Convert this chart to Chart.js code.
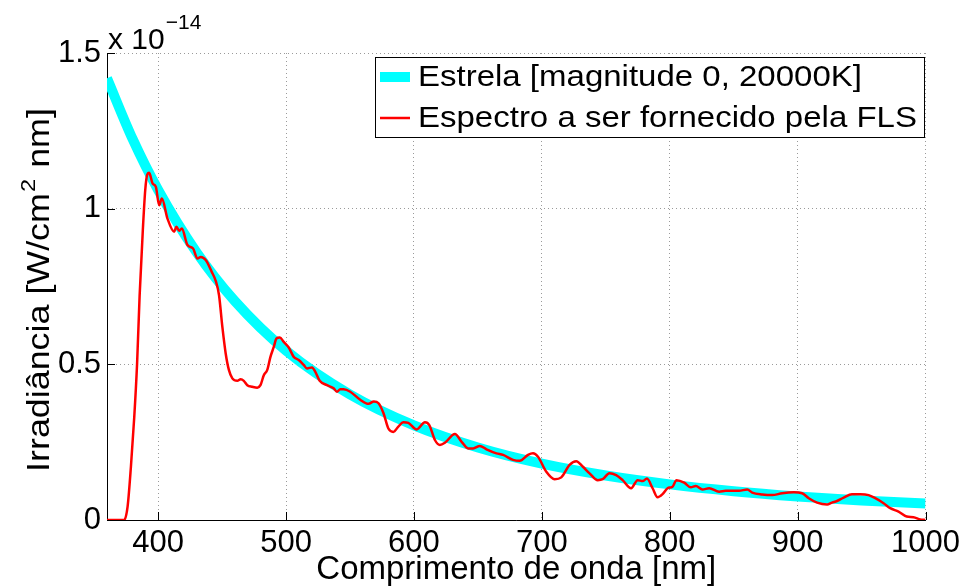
<!DOCTYPE html>
<html>
<head>
<meta charset="utf-8">
<script src="https://cdn.jsdelivr.net/npm/chart.js@4/dist/chart.umd.min.js"></script>
<style>
  html, body { margin: 0; padding: 0; background: #fff; }
  #chart { display: block; }
</style>
</head>
<body>
<canvas id="chart" width="968" height="587"></canvas>
<script>
// wavelength in nm, irradiance in units of 10^-14 W/cm2 nm
var starWavelengths = [360, 380, 400, 430, 460, 500, 550, 600, 650, 700, 750, 800, 850, 900, 950, 1000];
var starIrradiance = [1.419, 1.224, 1.060, 0.860, 0.703, 0.544, 0.403, 0.304, 0.233, 0.181, 0.143, 0.1145, 0.0926, 0.0757, 0.0624, 0.053];

var flsWavelengths = [360, 373.5, 376.1, 378.7, 381.3, 383.5, 385.5, 388, 389.9, 391.5, 393, 395.6, 398.2, 400.8, 402.9, 407.3,
    412.5, 414.3, 416.4, 418.5, 422.9, 427.3, 430.7, 433.3, 437.2, 441.9, 445, 447.6, 450.2, 452.8, 455.3, 458, 461.9, 464.5,
    467, 469.7, 473.6, 477.5, 480, 482.6, 485.3, 487.8, 490.4, 492.5, 495.1, 498.2, 502.1, 506, 509.9, 513.8, 516.4, 520.3,
    522.9, 526.3, 532, 537.2, 539.8, 542.4, 545, 550.2, 558, 564.5, 568.6, 572.3, 576.2, 580, 583.9, 587.8, 591.7, 595.6,
    602.2, 608.6, 612, 616.4, 620.3, 624.2, 632, 637.3, 642.4, 646.3, 651.5, 656.7, 664.5, 669.7, 677.5, 682.7, 689.2, 693.1,
    697, 703.5, 710, 715.2, 721.7, 726.9, 732.1, 737.3, 743.7, 747.6, 752.8, 758.1, 763.2, 769.8, 774.9, 778.8, 782.2, 786.6,
    790.5, 794.4, 798.3, 802.2, 805.3, 811.3, 816.5, 820.4, 825.6, 830.8, 838.6, 843.8, 854.2, 860.6, 864.5, 872.3, 880.1,
    887.9, 897, 903.5, 908.7, 915.2, 923, 926.9, 930.8, 936, 942.5, 949, 955.5, 960.7, 967.2, 972.4, 978.9, 985.3, 990.6,
    995.8, 1000];
var flsIrradiance = [0, 0, 0.043, 0.171, 0.33, 0.5, 0.72, 0.93, 1.06, 1.11, 1.115, 1.081, 1.07, 1.011, 1.033, 0.968,
    0.926, 0.942, 0.929, 0.936, 0.883, 0.872, 0.84, 0.845, 0.835, 0.797, 0.768, 0.722, 0.62, 0.535, 0.482, 0.455, 0.447, 0.452,
    0.447, 0.433, 0.428, 0.425, 0.433, 0.465, 0.482, 0.524, 0.556, 0.583, 0.586, 0.572, 0.554, 0.524, 0.514, 0.498, 0.487, 0.49,
    0.476, 0.447, 0.433, 0.423, 0.412, 0.42, 0.42, 0.412, 0.386, 0.373, 0.381, 0.375, 0.343, 0.294, 0.283, 0.3, 0.314, 0.312,
    0.291, 0.314, 0.305, 0.257, 0.241, 0.248, 0.276, 0.251, 0.23, 0.23, 0.238, 0.227, 0.214, 0.209, 0.193, 0.19, 0.209, 0.214,
    0.203, 0.155, 0.131, 0.137, 0.177, 0.189, 0.171, 0.15, 0.128, 0.131, 0.15, 0.144, 0.128, 0.102, 0.128, 0.125, 0.133, 0.102,
    0.073, 0.083, 0.102, 0.107, 0.128, 0.12, 0.105, 0.109, 0.098, 0.102, 0.091, 0.094, 0.094, 0.098, 0.088, 0.082, 0.08,
    0.086, 0.089, 0.086, 0.07, 0.056, 0.05, 0.056, 0.061, 0.072, 0.083, 0.083, 0.08, 0.07, 0.054, 0.038, 0.027, 0.011, 0.009,
    0.002, 0];

var xTicks = [400, 500, 600, 700, 800, 900, 1000];
var xTickLabels = ['400', '500', '600', '700', '800', '900', '1000'];
var yTicks = [0, 0.5, 1, 1.5];
var yTickLabels = ['0', '0.5', '1', '1.5'];

var FONT = '"Liberation Sans", Arial, Helvetica, sans-serif';

function toPoints(xs, ys) {
    return xs.map(function (x, i) { return { x: x, y: ys[i] }; });
}

// small tick marks inside the axes, the "x 10^-14" label and the y title
var axesExtras = {
    id: 'axesExtras',
    afterDatasetsDraw: function (chart) {
        var ctx = chart.ctx;
        var area = chart.chartArea;
        var xs = chart.scales.x;
        var ys = chart.scales.y;
        ctx.save();
        ctx.strokeStyle = '#000';
        ctx.lineWidth = 1;
        ctx.beginPath();
        xTicks.forEach(function (v) {
            var px = Math.round(xs.getPixelForValue(v)) + 0.5;
            ctx.moveTo(px, area.bottom);
            ctx.lineTo(px, area.bottom - 8);
        });
        yTicks.forEach(function (v) {
            var py = Math.round(ys.getPixelForValue(v)) + 0.5;
            ctx.moveTo(area.left, py);
            ctx.lineTo(area.left + 8, py);
        });
        ctx.stroke();

        ctx.fillStyle = '#000';
        ctx.textBaseline = 'alphabetic';
        ctx.textAlign = 'left';
        ctx.font = '30px ' + FONT;
        ctx.fillText('x 10', area.left + 1, 49);
        var w = ctx.measureText('x 10').width;
        ctx.font = '21px ' + FONT;
        ctx.fillText('\u221214', area.left + 1 + w + 1, 29);

        // y axis title with superscript 2, rotated
        var parts = ['Irradiância [W/cm', '2', ' nm]'];
        ctx.font = '32px ' + FONT;
        var w1 = ctx.measureText(parts[0]).width;
        var w3 = ctx.measureText(parts[2]).width;
        ctx.font = '21px ' + FONT;
        var w2 = ctx.measureText(parts[1]).width + 2;
        var stretch = 1.12;
        var total = (w1 + w2 + w3) * stretch;
        ctx.translate(49, 290 + total / 2);
        ctx.rotate(-Math.PI / 2);
        ctx.scale(stretch, 1);
        ctx.font = '32px ' + FONT;
        ctx.fillText(parts[0], 0, 0);
        ctx.font = '21px ' + FONT;
        ctx.fillText(parts[1], w1 + 1, -14);
        ctx.font = '32px ' + FONT;
        ctx.fillText(parts[2], w1 + w2, 0);
        ctx.restore();
    }
};

// legend drawn as a boxed panel in the top right corner
var boxLegend = {
    id: 'boxLegend',
    afterDraw: function (chart) {
        var ctx = chart.ctx;
        var left = 375, top = 57, right = 925, bottom = 138;
        ctx.save();
        ctx.fillStyle = '#fff';
        ctx.fillRect(left, top, right - left, bottom - top);
        ctx.strokeStyle = '#000';
        ctx.lineWidth = 1;
        ctx.strokeRect(left + 0.5, top + 0.5, right - left - 1, bottom - top - 1);
        ctx.textBaseline = 'middle';
        ctx.textAlign = 'left';
        var entries = chart.data.datasets.slice().sort(function (a, b) { return a.legendRank - b.legendRank; });
        entries.forEach(function (ds, i) {
            var y = top + 20 + i * 41;
            ctx.beginPath();
            ctx.strokeStyle = ds.borderColor;
            ctx.lineWidth = ds.borderWidth;
            ctx.moveTo(380, y);
            ctx.lineTo(410, y);
            ctx.stroke();
            ctx.save();
            ctx.translate(418, y + 1);
            ctx.scale(1.10, 1);
            ctx.font = '30px ' + FONT;
            ctx.fillStyle = '#000';
            ctx.fillText(ds.label, 0, 0);
            ctx.restore();
        });
        ctx.restore();
    }
};

document.addEventListener("DOMContentLoaded", function () {
    var ctx = document.getElementById('chart').getContext('2d');

    new Chart(ctx, {
        type: 'line',
        data: {
            datasets: [{
                label: 'Estrela [magnitude 0, 20000K]',
                legendRank: 0,
                order: 2,
                data: toPoints(starWavelengths, starIrradiance),
                borderColor: '#00ffff',
                borderWidth: 10,
                cubicInterpolationMode: 'monotone',
                pointRadius: 0,
                fill: false
            }, {
                label: 'Espectro a ser fornecido pela FLS',
                legendRank: 1,
                order: 1,
                data: toPoints(flsWavelengths, flsIrradiance),
                borderColor: '#ff0000',
                borderWidth: 2.5,
                cubicInterpolationMode: 'monotone',
                pointRadius: 0,
                fill: false
            }]
        },
        options: {
            responsive: false,
            maintainAspectRatio: false,
            animation: false,
            devicePixelRatio: 1,
            layout: { padding: { top: 53, right: 41, left: 0, bottom: 0 } },
            plugins: {
                legend: { display: false },
                tooltip: { enabled: false }
            },
            scales: {
                x: {
                    type: 'linear',
                    min: 360,
                    max: 1000,
                    afterBuildTicks: function (scale) {
                        scale.ticks = xTicks.map(function (v) { return { value: v }; });
                    },
                    afterFit: function (scale) { scale.height = 67; },
                    grid: { color: '#9a9a9a', drawTicks: false, lineWidth: 1 },
                    border: { display: true, color: '#000', width: 1, dash: [1, 3] },
                    ticks: {
                        autoSkip: false,
                        maxRotation: 0,
                        padding: 8,
                        color: '#000',
                        font: { family: FONT, size: 31, lineHeight: 1 },
                        callback: function (value) {
                            var i = xTicks.indexOf(value);
                            return i >= 0 ? xTickLabels[i] : '';
                        }
                    },
                    title: {
                        display: true,
                        text: 'Comprimento de onda [nm]',
                        color: '#000',
                        font: { family: FONT, size: 33, lineHeight: 1 },
                        padding: { top: 0, bottom: 1 }
                    }
                },
                y: {
                    type: 'linear',
                    min: 0,
                    max: 1.5,
                    afterBuildTicks: function (scale) {
                        scale.ticks = yTicks.map(function (v) { return { value: v }; });
                    },
                    afterFit: function (scale) { scale.width = 107; },
                    grid: { color: '#9a9a9a', drawTicks: false, lineWidth: 1 },
                    border: { display: true, color: '#000', width: 1, dash: [1, 3] },
                    ticks: {
                        autoSkip: false,
                        padding: 6,
                        color: '#000',
                        font: { family: FONT, size: 31, lineHeight: 1 },
                        callback: function (value) {
                            var i = yTicks.indexOf(value);
                            return i >= 0 ? yTickLabels[i] : '';
                        }
                    }
                }
            }
        },
        plugins: [axesExtras, boxLegend]
    });
});
</script>
</body>
</html>
